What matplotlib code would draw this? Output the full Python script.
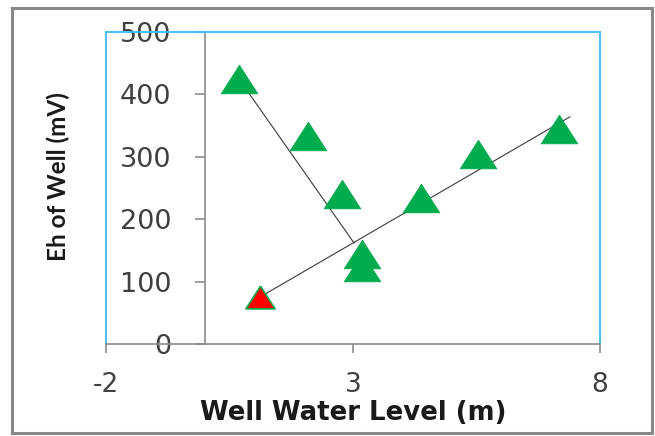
import matplotlib
matplotlib.use("Agg")
import matplotlib.pyplot as plt
from matplotlib.patches import Rectangle

plt.rcParams["axes.unicode_minus"] = False

# data
well_level = [0.69, 2.08, 2.77, 3.18, 3.18, 4.37, 5.53, 7.17]
eh_well = [424, 333, 240, 145, 123, 234, 304, 344]
red_level = [1.11]
red_eh = [76]

# hand drawn trend lines (end points)
down_x = [0.75, 3.02]
down_y = [418, 162]
up_x = [1.09, 7.39]
up_y = [74, 364]

x_ticks = [-2, 3, 8]
y_ticks = [0, 100, 200, 300, 400, 500]

green = "#00AC4E"
blue = "#3CBDF0"
axis_gray = "#8C8C8C"
text_col = "#404040"

fig = plt.figure(figsize=(6.55, 4.36), dpi=100)
ax = fig.add_axes([106 / 655, 1 - 344 / 436, 494 / 655, 312 / 436])

# flattened triangle marker like excel's
tri = [(0, 0.78), (-1, -0.78), (1, -0.78), (0, 0.78)]

ax.plot(down_x, down_y, color="#3a3a3a", lw=0.8, zorder=2)
ax.plot(up_x, up_y, color="#3a3a3a", lw=0.8, zorder=2)
ax.plot(well_level, eh_well, ls="none", marker=tri, ms=26.5,
        mfc=green, mec=green, mew=0.5, zorder=3)
ax.plot(red_level, red_eh, ls="none", marker=tri, ms=21,
        mfc="#FF0000", mec=green, mew=1.2, zorder=4)

ax.set_xlim(-2, 8)
ax.set_ylim(0, 500)
ax.set_xticks(x_ticks)
ax.set_yticks(y_ticks)

ax.spines["left"].set_position(("data", 0))
for s in ["left", "bottom"]:
    ax.spines[s].set_color(axis_gray)
    ax.spines[s].set_linewidth(1.2)
for s in ["top", "right"]:
    ax.spines[s].set_color(blue)
    ax.spines[s].set_linewidth(1.3)
ax.plot([0, 0], [0, 1], transform=ax.transAxes, color=blue, lw=1.3,
        clip_on=False, zorder=1)

ax.tick_params(axis="x", direction="out", length=6.5, width=1.2,
               color=axis_gray, labelsize=19, labelcolor=text_col, pad=14)
ax.tick_params(axis="y", direction="out", length=7, width=1.2,
               color=axis_gray, labelsize=19.5, labelcolor=text_col, pad=17)

ax.set_xlabel("Well Water Level (m)", fontsize=18.7, fontweight="bold",
              color="#1a1a1a")
ax.xaxis.set_label_coords(0.5, -0.18)
ax.set_ylabel("Eh of Well (mV)", fontsize=17.5, fontweight="bold",
              family="Lato", color="#1a1a1a")
ax.yaxis.set_label_coords(-0.073, 0.537)

# outer chart frame
fig.patches.append(Rectangle((12 / 655, 3 / 436), 640 / 655, 425 / 436,
                             transform=fig.transFigure, fill=False,
                             ec="#888888", lw=2.2))

fig.savefig("out.png", dpi=100)
